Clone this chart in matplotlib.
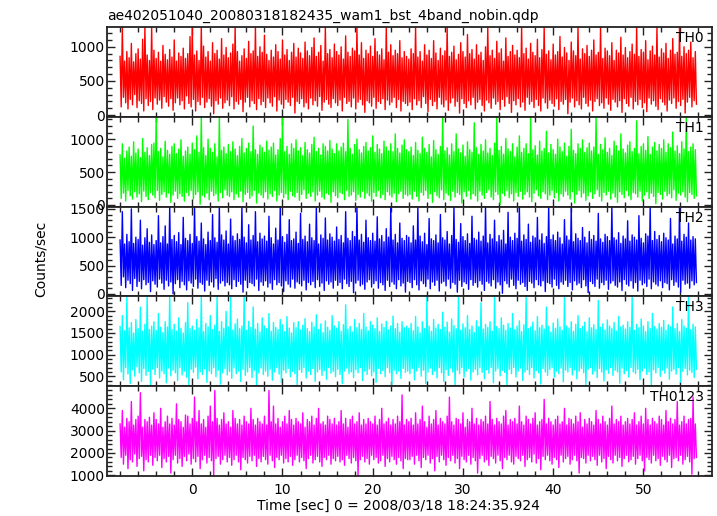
import matplotlib
matplotlib.use('Agg')
import matplotlib.pyplot as plt
import numpy as np
from matplotlib.ticker import MultipleLocator

# WAM light curves: alternating local maxima / minima, 0.125 s apart
t_start = -8.0
step_sec = 0.125

th0_high = [860, 1290, 790, 930, 840, 1050, 780, 900, 970, 820, 1110, 1290, 880, 800, 1290, 950,
            830, 920, 790, 1020, 890, 810, 960, 850, 1100, 790, 910, 860, 980, 830, 900, 1150,
            1290, 880, 940, 800, 1290, 1010, 850, 930, 790, 1060, 900, 950, 820, 1120, 880, 990,
            840, 910, 1040, 1290, 930, 790, 870, 970, 830, 1080, 900, 940, 1290, 860, 1000, 920,
            1170, 890, 800, 950, 850, 1030, 930, 820, 1100, 880, 960, 800, 920, 1050, 850, 980,
            910, 830, 1070, 940, 870, 990, 1130, 860, 920, 1020, 790, 1290, 900, 960, 840, 1040,
            930, 880, 1000, 820, 1160, 920, 860, 980, 940, 1290, 880, 1060, 830, 950, 900, 1010,
            860, 1120, 930, 880, 970, 810, 1290, 920, 1030, 870, 950, 900, 1090, 840, 930, 860,
            820, 970, 900, 1290, 850, 930, 790, 1030, 880, 950, 830, 1090, 910, 800, 980, 870,
            940, 1290, 860, 920, 1010, 810, 890, 1060, 930, 850, 1180, 900, 960, 820, 1030, 880,
            920, 800, 1000, 1290, 870, 950, 830, 1080, 910, 970, 790, 1130, 860, 930, 1020, 880,
            950, 840, 1290, 900, 980, 820, 1050, 920, 870, 1110, 840, 960, 1290, 890, 940, 810,
            1040, 880, 930, 1150, 850, 990, 910, 800, 1070, 940, 870, 1290, 820, 970, 900, 1020,
            860, 950, 1100, 880, 920, 1290, 830, 980, 940, 870, 1060, 800, 950, 910, 1140, 880,
            990, 840, 930, 1040, 890, 1290, 860, 960, 920, 1090, 810, 940, 1010, 880, 1290, 850,
            970, 910, 1050, 830, 950, 1120, 890, 920, 1290, 860, 1000, 900, 950, 1070, 840, 930]
th0_low = [120, 260, 180, 90, 230, 150, 300, 110, 210, 170, 60, 240, 140, 200, 80, 250,
           160, 220, 100, 270, 190, 130, 240, 70, 180, 250, 150, 210, 90, 280, 170, 120,
           230, 60, 200, 150, 260, 110, 190, 240, 130, 20, 210, 160, 250, 100, 180, 220,
           140, 270, 90, 200, 160, 230, 50, 190, 260, 120, 210, 170, 80, 240, 150, 200,
           110, 250, 180, 130, 270, 60, 220, 160, 100, 230, 190, 140, 260, 30, 200, 170,
           240, 120, 180, 90, 250, 150, 210, 130, 270, 70, 190, 230, 160, 110, 240, 180,
           140, 220, 60, 260, 170, 200, 120, 250, 90, 190, 230, 150, 40, 210, 180, 130,
           260, 100, 200, 170, 240, 80, 220, 150, 190, 260, 110, 230, 60, 200, 170, 140,
           190, 80, 240, 150, 210, 110, 270, 170, 50, 230, 140, 200, 90, 260, 160, 120,
           220, 70, 180, 250, 130, 200, 30, 240, 170, 110, 210, 150, 260, 90, 190, 230,
           140, 60, 220, 180, 100, 250, 160, 200, 80, 230, 130, 270, 170, 40, 210, 150,
           240, 120, 190, 70, 260, 160, 200, 110, 230, 140, 60, 250, 180, 100, 220, 170,
           130, 240, 80, 200, 160, 230, 20, 190, 250, 120, 210, 150, 90, 260, 170, 130,
           220, 60, 200, 240, 140, 180, 100, 250, 160, 70, 230, 190, 120, 210, 40, 240,
           170, 130, 260, 90, 200, 150, 230, 110, 180, 50, 250, 160, 210, 130, 80, 240,
           190, 150, 60, 220, 170, 250, 100, 200, 140, 230, 30, 190, 260, 120, 210, 160]

th1_high = [760, 930, 710, 820, 880, 740, 960, 790, 850, 720, 1010, 800, 870, 750, 920, 940,
            1340, 810, 860, 730, 970, 830, 770, 890, 930, 780, 850, 990, 740, 820, 880, 770,
            940, 840, 1050, 800, 1340, 870, 750, 1000, 860, 800, 930, 730, 1340, 830, 880, 780,
            920, 810, 960, 850, 750, 890, 1010, 790, 860, 940, 810, 1200, 840, 770, 910, 870,
            800, 970, 830, 880, 940, 760, 840, 1010, 1340, 810, 890, 770, 930, 860, 990, 820,
            870, 750, 950, 840, 790, 920, 1030, 810, 860, 760, 930, 890, 820, 980, 850, 780,
            930, 820, 880, 940, 810, 1300, 860, 770, 920, 1000, 840, 790, 890, 950, 820, 870,
            1050, 800, 920, 850, 780, 970, 880, 820, 930, 810, 1080, 860, 790, 910, 990, 840,
            810, 880, 750, 950, 830, 780, 1030, 860, 800, 920, 730, 980, 840, 770, 890, 1340,
            820, 870, 760, 930, 810, 1080, 850, 790, 910, 740, 960, 840, 800, 1250, 870, 770,
            920, 820, 990, 790, 860, 750, 940, 1340, 830, 890, 770, 1010, 850, 810, 930, 730,
            880, 1050, 800, 860, 930, 780, 1340, 840, 900, 760, 970, 820, 860, 1120, 790, 920,
            840, 770, 1000, 880, 810, 940, 740, 890, 1150, 830, 780, 930, 860, 990, 800, 870,
            940, 820, 880, 1340, 770, 920, 840, 1020, 800, 860, 750, 970, 900, 820, 1080, 850,
            790, 910, 960, 810, 860, 1280, 780, 890, 930, 830, 1040, 770, 880, 950, 820, 920,
            860, 990, 800, 930, 870, 1110, 820, 900, 780, 960, 850, 1340, 810, 880, 930, 840]
th1_low = [100, 180, 60, 220, 140, 90, 200, 120, 170, 50, 210, 130, 80, 190, 150, 110,
           220, 70, 160, 200, 120, 180, 40, 150, 210, 100, 170, 130, 60, 190, 140, 220,
           90, 160, 200, 10, 150, 120, 180, 80, 210, 140, 170, 60, 190, 110, 230, 150,
           130, 200, 80, 170, 120, 210, 50, 160, 190, 100, 140, 220, 30, 180, 150, 110,
           200, 90, 170, 130, 220, 60, 150, 190, 110, 170, 80, 210, 140, 120, 190, 70,
           160, 230, 100, 180, 130, 200, 60, 150, 210, 120, 90, 180, 160, 40, 200, 140,
           110, 190, 170, 80, 220, 130, 150, 200, 70, 160, 120, 210, 100, 180, 140, 60,
           190, 130, 220, 110, 160, 80, 200, 150, 120, 180, 50, 170, 210, 100, 160, 140,
           160, 90, 210, 130, 60, 190, 150, 220, 100, 170, 40, 200, 140, 110, 230, 80,
           180, 150, 70, 210, 120, 190, 160, 30, 200, 130, 220, 90, 170, 140, 60, 210,
           150, 100, 190, 230, 120, 80, 200, 160, 10, 180, 140, 220, 110, 170, 60, 190,
           130, 210, 90, 160, 200, 120, 50, 180, 230, 140, 100, 200, 170, 80, 150, 220,
           110, 190, 60, 170, 130, 210, 150, 90, 200, 30, 160, 220, 120, 180, 70, 140,
           200, 100, 170, 230, 130, 60, 190, 150, 210, 90, 180, 120, 40, 200, 160, 110,
           220, 140, 80, 190, 170, 120, 210, 60, 150, 200, 100, 180, 130, 20, 190, 160,
           90, 210, 140, 170, 110, 230, 70, 180, 150, 200, 120, 50, 190, 160, 100, 140]

th2_high = [950, 1450, 880, 1050, 920, 1500, 890, 1000, 960, 1300, 860, 990, 1150, 910, 1040, 870,
            940, 1380, 900, 1010, 1200, 880, 1540, 960, 1030, 920, 1080, 870, 1350, 980, 940, 1050,
            890, 1540, 1010, 930, 1250, 970, 870, 1090, 940, 1400, 990, 910, 1540, 1040, 950, 1110,
            880, 1320, 1020, 940, 1060, 960, 1540, 1000, 900, 1220, 950, 1030, 1450, 920, 1070, 970,
            1020, 930, 1370, 990, 880, 1160, 950, 1540, 1010, 910, 1050, 1310, 940, 970, 1090, 890,
            1420, 960, 1020, 920, 1230, 990, 940, 1540, 880, 1040, 980, 1340, 950, 1060, 1000, 930,
            1180, 960, 1030, 900, 1450, 980, 940, 1100, 1010, 1540, 950, 1050, 910, 1300, 990, 940,
            1070, 930, 1360, 970, 1030, 920, 1150, 1000, 1540, 950, 1050, 900, 1250, 980, 940, 1030,
            1000, 900, 1200, 950, 1540, 1020, 920, 1070, 870, 1330, 970, 940, 1040, 900, 1400, 990,
            950, 1100, 880, 1030, 1540, 960, 910, 1240, 1010, 940, 1060, 890, 1370, 980, 950, 1090,
            930, 1020, 1540, 900, 1050, 970, 1300, 920, 1030, 950, 1120, 880, 1440, 1000, 940, 1070,
            980, 1540, 930, 1040, 960, 1230, 910, 1020, 990, 1350, 950, 1060, 890, 1010, 1540, 960,
            1040, 940, 1090, 990, 880, 1310, 1020, 950, 1540, 920, 1060, 980, 940, 1170, 1000, 900,
            1100, 960, 1030, 930, 1420, 970, 910, 1050, 1010, 940, 1540, 990, 950, 1080, 890, 1020,
            970, 1290, 930, 1040, 1000, 950, 1380, 980, 900, 1060, 1020, 1540, 940, 1100, 960, 1030,
            920, 1070, 990, 950, 1330, 880, 1020, 970, 1540, 930, 1050, 1000, 1250, 950, 1010, 970]
th2_low = [150, 300, 110, 240, 180, 60, 270, 130, 220, 90, 250, 160, 200, 40, 230, 170,
           120, 260, 190, 80, 240, 140, 210, 0, 180, 250, 110, 220, 160, 70, 230, 190,
           130, 260, 100, 200, 170, 50, 240, 150, 210, 120, 270, 80, 190, 230, 140, 200,
           160, 90, 250, 130, 220, 170, 30, 240, 110, 200, 180, 140, 260, 60, 210, 150,
           230, 120, 190, 80, 250, 160, 200, 140, 40, 230, 170, 120, 260, 100, 210, 180,
           140, 240, 70, 200, 160, 220, 110, 250, 130, 190, 60, 230, 170, 210, 100, 240,
           150, 200, 90, 260, 180, 130, 220, 20, 190, 240, 140, 170, 80, 210, 250, 120,
           180, 230, 100, 200, 160, 60, 240, 130, 210, 170, 90, 250, 140, 190, 30, 220,
           200, 110, 250, 160, 70, 230, 180, 130, 260, 90, 210, 150, 240, 50, 190, 220,
           140, 260, 100, 200, 170, 30, 240, 130, 210, 180, 80, 250, 150, 200, 120, 230,
           170, 60, 220, 190, 140, 250, 100, 210, 160, 10, 230, 180, 120, 260, 150, 90,
           240, 170, 200, 130, 60, 220, 190, 110, 250, 160, 140, 230, 40, 200, 180, 120,
           260, 150, 90, 210, 170, 240, 130, 200, 70, 230, 160, 190, 110, 250, 140, 20,
           220, 180, 130, 260, 100, 200, 160, 240, 80, 190, 230, 150, 120, 210, 60, 250,
           170, 140, 230, 100, 200, 50, 240, 160, 190, 130, 260, 90, 210, 170, 140, 230,
           110, 200, 180, 70, 250, 150, 210, 120, 30, 240, 170, 190, 100, 230, 160, 200]

th3_high = [1650, 1900, 1550, 2345, 1620, 1740, 1500, 1810, 1600, 2100, 1540, 1700, 2345, 1580, 1660, 1760,
            1560, 1950, 1630, 1510, 1760, 1640, 2345, 1580, 1700, 1540, 1850, 1610, 1500, 1740, 2200, 1600,
            1660, 1560, 1810, 1620, 2345, 1530, 1720, 1640, 1900, 1580, 1680, 2345, 1540, 1760, 1610, 2000,
            1640, 2345, 1570, 1710, 1820, 1600, 1660, 2345, 1560, 1770, 1630, 2100, 1590, 1720, 1520, 1850,
            1660, 1600, 1950, 1540, 1740, 1630, 1580, 1810, 1690, 1530, 1880, 1610, 1500, 1740, 1620, 1760,
            1570, 1680, 1830, 1600, 1530, 1750, 1640, 1920, 1580, 1710, 1510, 1780, 1630, 1560, 1900, 1660,
            1610, 1760, 1540, 1690, 2150, 1590, 1650, 1520, 1810, 1620, 1720, 1580, 1950, 1640, 1550, 1760,
            1680, 1600, 1850, 1530, 1710, 1630, 1770, 1570, 1660, 1890, 1600, 1720, 1520, 1760, 1620, 1660,
            1610, 1720, 1550, 1880, 1640, 1500, 1760, 1600, 2345, 1660, 1540, 1810, 1610, 1700, 1580, 1980,
            1630, 1750, 1520, 1820, 1670, 1600, 2345, 1560, 1710, 1620, 1900, 1580, 1660, 1510, 1780, 1640,
            2200, 1590, 1700, 1630, 1760, 1540, 2345, 1650, 1600, 1850, 1680, 1560, 1720, 1610, 1950, 1580,
            1660, 1780, 1530, 1690, 2345, 1600, 1640, 1750, 1550, 1880, 1620, 1680, 1590, 2100, 1650, 1520,
            1730, 1610, 1820, 1640, 1560, 2345, 1660, 1610, 1760, 1540, 1700, 1900, 1600, 1650, 1750, 1530,
            1850, 1620, 1690, 1580, 2250, 1630, 1710, 1570, 1800, 1660, 1600, 1740, 1540, 1880, 1640, 1680,
            1590, 1760, 1630, 2345, 1560, 1700, 1620, 1820, 1660, 1530, 1760, 1600, 1950, 1650, 1590, 1720,
            1630, 1790, 1560, 1690, 1640, 2100, 1600, 1720, 1530, 1810, 1660, 1610, 2345, 1580, 1700, 1640]
th3_low = [600, 420, 700, 550, 330, 650, 500, 720, 580, 380, 680, 520, 610, 300, 660, 540,
           700, 460, 620, 560, 350, 690, 510, 640, 580, 400, 700, 530, 620, 480, 300, 660,
           590, 710, 440, 600, 540, 670, 360, 620, 560, 700, 490, 640, 320, 580, 680, 530,
           610, 450, 700, 560, 620, 380, 660, 520, 600, 700, 470, 640, 300, 580, 690, 540,
           620, 500, 660, 410, 600, 700, 550, 350, 640, 580, 680, 490, 610, 560, 300, 650,
           590, 700, 460, 620, 540, 680, 380, 600, 660, 520, 630, 430, 700, 570, 610, 490,
           660, 540, 330, 620, 690, 560, 600, 470, 650, 580, 700, 400, 620, 540, 670, 510,
           600, 360, 680, 560, 630, 490, 700, 580, 300, 640, 560, 620, 450, 680, 590, 620,
           560, 680, 420, 620, 700, 500, 640, 330, 600, 690, 540, 620, 460, 700, 580, 380,
           650, 520, 690, 600, 300, 640, 560, 700, 480, 620, 680, 410, 600, 660, 530, 700,
           590, 440, 650, 570, 700, 350, 620, 680, 510, 640, 590, 300, 660, 560, 700, 480,
           620, 690, 400, 600, 650, 540, 700, 460, 630, 580, 320, 680, 600, 520, 660, 700,
           480, 620, 560, 690, 370, 640, 600, 700, 530, 650, 440, 620, 680, 580, 300, 660,
           700, 550, 620, 470, 680, 600, 390, 650, 570, 700, 520, 640, 600, 340, 690, 560,
           630, 480, 700, 600, 560, 660, 420, 620, 690, 540, 600, 300, 650, 580, 700, 500,
           640, 570, 690, 430, 620, 660, 550, 700, 360, 610, 680, 530, 640, 590, 470, 660]

th0123_high = [3300, 3900, 3150, 3550, 3400, 4300, 3250, 3500, 3650, 4700, 3150, 3500, 3400, 3600, 3250, 3800,
               3500, 3300, 4000, 3150, 3400, 3650, 3300, 3550, 3250, 4200, 3500, 3400, 3150, 3700, 3650, 3300,
               3550, 4500, 3400, 3900, 3300, 3500, 3150, 3650, 4100, 3400, 4800, 3550, 3250, 3500, 3800, 3300,
               3400, 3150, 3900, 3550, 3300, 3500, 3250, 3650, 3400, 3300, 4000, 3500, 3250, 3550, 3400, 3300,
               3650, 3250, 4800, 3400, 4100, 3300, 3550, 3150, 3400, 3650, 3300, 3900, 3500, 3250, 3550, 3400,
               3300, 3800, 3150, 3500, 3400, 3650, 3250, 3550, 4000, 3300, 3400, 3250, 3650, 3500, 3300, 3550,
               3250, 3400, 3900, 3300, 3550, 3150, 3500, 3650, 3300, 3400, 3800, 3250, 3500, 3300, 3550, 3400,
               3300, 3650, 3250, 3500, 4000, 3300, 3400, 3550, 3250, 3500, 3300, 3650, 3400, 4600, 3250, 3500,
               3400, 3550, 3250, 3800, 3300, 3500, 4100, 3400, 3150, 3650, 3300, 3500, 3900, 3250, 3550, 3400,
               3300, 3650, 4500, 3400, 3250, 3550, 3500, 3300, 3800, 3150, 3500, 3400, 4000, 3300, 3550, 3250,
               3500, 3400, 3650, 3300, 4300, 3500, 3250, 3550, 3400, 3300, 3650, 3900, 3250, 3500, 3400, 3550,
               3300, 4100, 3400, 3250, 3650, 3500, 3300, 3550, 3800, 3250, 3400, 3500, 4400, 3300, 3550, 3400,
               3250, 3500, 3650, 3300, 3400, 4000, 3250, 3550, 3500, 3300, 3650, 3400, 3800, 3150, 3500, 3300,
               3550, 3400, 3250, 3900, 3500, 3300, 3650, 3400, 3250, 3550, 4100, 3300, 3500, 3400, 3650, 3250,
               3400, 3550, 3300, 3500, 3800, 3250, 3400, 3650, 3300, 4000, 3500, 3250, 3550, 3400, 3300, 3650,
               3500, 3250, 3900, 3400, 3550, 3300, 3500, 4300, 3250, 3400, 3650, 3300, 3500, 3550, 4500, 3300]
th0123_low = [1800, 1500, 1900, 1300, 1700, 1600, 1950, 1400, 1750, 1850, 1200, 1700, 1600, 1900, 1450, 1800,
              1650, 1900, 1350, 1750, 1600, 1850, 1100, 1700, 1900, 1550, 1750, 1400, 1850, 1650, 1950, 1500,
              1750, 1600, 1850, 1300, 1700, 1900, 1550, 1800, 1650, 1000, 1750, 1850, 1500, 1700, 1900, 1600,
              1800, 1450, 1700, 1900, 1600, 1250, 1800, 1700, 1550, 1850, 1650, 1900, 1400, 1750, 1600, 1850,
              1700, 1500, 1900, 1650, 1350, 1800, 1700, 1900, 1550, 1750, 1600, 1850, 1450, 1700, 1900, 1600,
              1800, 1650, 1300, 1750, 1900, 1550, 1700, 1850, 1600, 1400, 1800, 1700, 1900, 1500, 1750, 1650,
              1850, 1600, 1700, 1450, 1900, 1750, 1550, 1800, 1650, 1000, 1700, 1850, 1600, 1750, 1500, 1900,
              1700, 1800, 1550, 1650, 1900, 1400, 1750, 1600, 1850, 1700, 1500, 1800, 1650, 1300, 1750, 1700,
              1700, 1850, 1500, 1900, 1650, 1350, 1800, 1700, 1900, 1550, 1750, 1200, 1850, 1600, 1900, 1700,
              1450, 1800, 1650, 1900, 1550, 1750, 1300, 1850, 1700, 1600, 1900, 1500, 1800, 1650, 1100, 1750,
              1900, 1600, 1700, 1450, 1850, 1750, 1550, 1900, 1650, 1300, 1800, 1700, 1900, 1600, 1500, 1850,
              1750, 1650, 1900, 1400, 1700, 1800, 1600, 1950, 1550, 1750, 1250, 1850, 1700, 1900, 1650, 1500,
              1800, 1700, 1350, 1900, 1600, 1750, 1850, 1500, 1700, 1900, 1650, 1100, 1800, 1750, 1550, 1900,
              1650, 1850, 1700, 1450, 1900, 1600, 1750, 1300, 1850, 1700, 1550, 1900, 1650, 1800, 1400, 1750,
              1900, 1600, 1700, 1850, 1500, 1750, 1900, 1650, 1200, 1800, 1700, 1550, 1900, 1650, 1750, 1450,
              1850, 1700, 1600, 1900, 1350, 1750, 1800, 1650, 1900, 1500, 1700, 1850, 1600, 1050, 1750, 1800]

bands = ['TH0', 'TH1', 'TH2', 'TH3', 'TH0123']
highs = [th0_high, th1_high, th2_high, th3_high, th0123_high]
lows = [th0_low, th1_low, th2_low, th3_low, th0123_low]
colors = ['#ff0000', '#00ff00', '#0000ff', '#00ffff', '#ff00ff']
ylims = [(-25, 1290), (-25, 1340), (-45, 1540), (270, 2345), (970, 4990)]
ymajor = [500, 500, 500, 500, 1000]
yminor = [100, 100, 100, 100, 200]

W, H = 717, 516
fig = plt.figure(figsize=(W / 100, H / 100), dpi=100)
gs = fig.add_gridspec(5, 1, left=107 / W, right=712 / W, top=1 - 27 / H, bottom=1 - 476 / H, hspace=0)

for i in range(5):
    ax = fig.add_subplot(gs[i])
    counts = np.column_stack([highs[i], lows[i]]).ravel()
    time = t_start + step_sec * np.arange(len(counts))
    ax.plot(time, counts, color=colors[i], lw=1.0)
    ax.set_xlim(-9.45, 57.6)
    ax.set_ylim(*ylims[i])
    ax.xaxis.set_major_locator(MultipleLocator(10))
    ax.xaxis.set_minor_locator(MultipleLocator(2))
    ax.yaxis.set_major_locator(MultipleLocator(ymajor[i]))
    ax.yaxis.set_minor_locator(MultipleLocator(yminor[i]))
    ax.tick_params(which='both', direction='in', top=True, right=True, color='#222222',
                   width=1.0, labelsize=10)
    ax.tick_params(which='major', length=6)
    ax.tick_params(which='minor', length=3.5)
    ax.tick_params(axis='y', pad=1.5)
    ax.tick_params(axis='x', pad=5)
    for s in ax.spines.values():
        s.set_color('#222222')
        s.set_linewidth(1.3)
    if i < 4:
        ax.tick_params(labelbottom=False)
    ax.text((704 - 107) / 605, 1 - 15 / 90, bands[i], transform=ax.transAxes,
            ha='right', va='baseline', fontsize=10)

fig.text(107 / W, 1 - 20 / H, 'ae402051040_20080318182435_wam1_bst_4band_nobin.qdp',
         ha='left', va='baseline', fontsize=10)
fig.text(41 / W, 1 - 259 / H, 'Counts/sec', rotation=90, ha='center', va='center', fontsize=10)
fig.text(398 / W, 1 - 510 / H, 'Time [sec] 0 = 2008/03/18 18:24:35.924', ha='center',
         va='baseline', fontsize=10)

plt.savefig('out.png', dpi=100)
plt.close()
